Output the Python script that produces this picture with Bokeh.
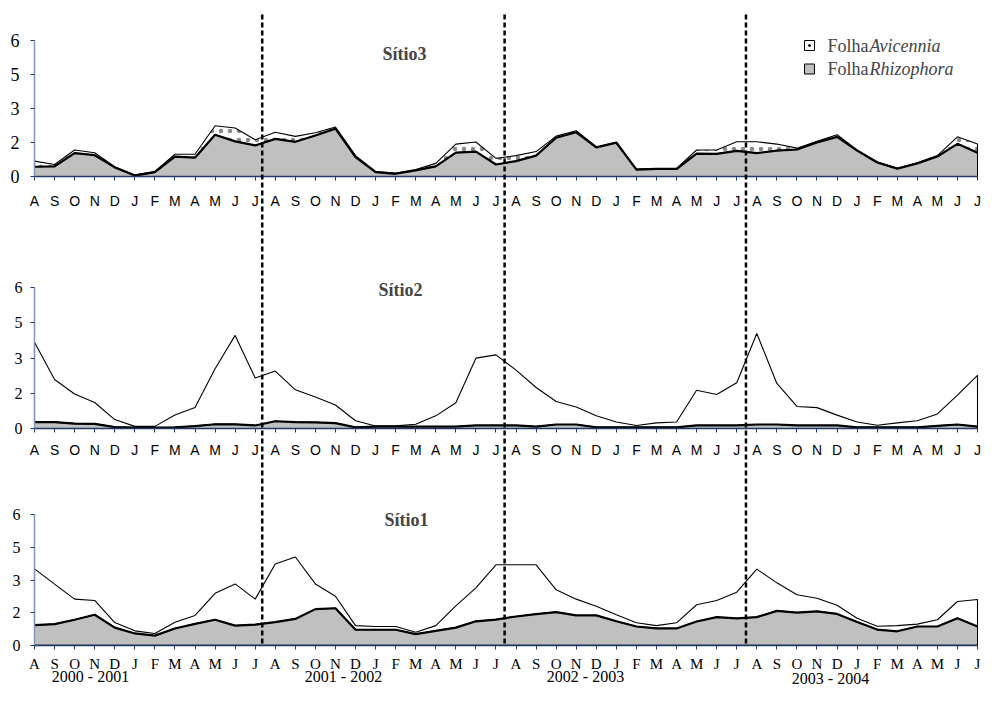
from bokeh.plotting import figure
from bokeh.models import Range1d, LinearAxis, FixedTicker, Label
from bokeh.core.properties import value
from bokeh.embed import file_html
from bokeh.resources import INLINE

# ---------------- data ----------------
months = ["A", "S", "O", "N", "D", "J", "F", "M", "A", "M", "J", "J"] * 4
idx = list(range(48))
year_labels = ["2000 - 2001", "2001 - 2002", "2002 - 2003", "2003 - 2004"]
year_breaks = [11.35, 23.43, 35.46]
y_tick_values = [0, 1.5, 3, 4.5, 6]
y_tick_labels = ["0", "2", "3", "5", "6"]

# Sítio3
rhiz3 = [0.43, 0.45, 1.03, 0.94, 0.40, 0.04, 0.19, 0.88, 0.83, 1.84, 1.55, 1.37,
         1.66, 1.53, 1.81, 2.11, 0.86, 0.19, 0.12, 0.27, 0.45, 1.05, 1.10, 0.53,
         0.68, 0.92, 1.71, 1.95, 1.28, 1.49, 0.30, 0.33, 0.33, 1.01, 1.00, 1.13,
         1.03, 1.14, 1.19, 1.50, 1.75, 1.14, 0.62, 0.34, 0.58, 0.88, 1.44, 1.05]
avic3 = [0.25, 0.08, 0.14, 0.11, 0.03, 0.03, 0.03, 0.10, 0.15, 0.40, 0.59, 0.25,
         0.29, 0.24, 0.12, 0.07, 0.06, 0.03, 0.03, 0.04, 0.13, 0.38, 0.42, 0.27,
         0.24, 0.18, 0.07, 0.07, 0.03, 0.03, 0.03, 0.03, 0.03, 0.16, 0.17, 0.40,
         0.50, 0.29, 0.06, 0.05, 0.09, 0.03, 0.03, 0.03, 0.03, 0.04, 0.31, 0.38]

# Sítio2
rhiz2 = [0.27, 0.27, 0.21, 0.20, 0.06, 0.04, 0.04, 0.05, 0.10, 0.18, 0.18, 0.13,
         0.31, 0.27, 0.26, 0.23, 0.05, 0.08, 0.08, 0.08, 0.08, 0.08, 0.13, 0.13,
         0.13, 0.08, 0.17, 0.17, 0.05, 0.05, 0.05, 0.05, 0.05, 0.13, 0.13, 0.13,
         0.17, 0.17, 0.13, 0.13, 0.13, 0.05, 0.05, 0.05, 0.05, 0.11, 0.17, 0.08]
avic2 = [3.41, 1.82, 1.26, 0.91, 0.32, 0.05, 0.05, 0.53, 0.80, 2.37, 3.79, 2.02,
         2.14, 1.38, 1.08, 0.77, 0.28, 0.03, 0.03, 0.10, 0.46, 1.02, 2.87, 3.01,
         2.36, 1.67, 0.98, 0.75, 0.49, 0.23, 0.08, 0.19, 0.23, 1.50, 1.32, 1.82,
         3.88, 1.75, 0.81, 0.76, 0.44, 0.23, 0.09, 0.19, 0.28, 0.51, 1.25, 2.19]

# Sítio1
rhiz1 = [0.92, 0.97, 1.17, 1.40, 0.81, 0.54, 0.44, 0.77, 0.98, 1.17, 0.90, 0.95,
         1.06, 1.21, 1.66, 1.70, 0.71, 0.71, 0.71, 0.51, 0.66, 0.81, 1.10, 1.18,
         1.32, 1.43, 1.52, 1.37, 1.37, 1.10, 0.86, 0.77, 0.77, 1.09, 1.29, 1.23,
         1.29, 1.58, 1.50, 1.56, 1.44, 1.07, 0.72, 0.64, 0.86, 0.86, 1.24, 0.86]
avic1 = [2.59, 1.84, 0.95, 0.66, 0.23, 0.12, 0.10, 0.29, 0.39, 1.22, 1.92, 1.17,
         2.68, 2.85, 1.16, 0.55, 0.19, 0.15, 0.15, 0.09, 0.24, 1.00, 1.54, 2.52,
         2.38, 2.27, 1.03, 0.75, 0.42, 0.30, 0.17, 0.13, 0.26, 0.77, 0.77, 1.21,
         2.21, 1.29, 0.82, 0.60, 0.40, 0.17, 0.15, 0.26, 0.11, 0.31, 0.77, 1.24]

# ---------------- layout helpers (picture pixels -> data) ----------------
W, H = 983, 686
FT, FB = 0, H
X0_PX, XN_PX = 34, 977
XS = (XN_PX - X0_PX) / 47.0

# name: (baseline px, px per unit, vertical shift so that all fits)
PANEL_GEOM = {"p3": (178.0, 22.67, -2),
              "p2": (433.0, 23.45, -5),
              "p1": (653.7, 21.73, -9)}


def dx(px):
    return (px - X0_PX) / XS


def sy(screen_px, name):
    """picture pixel (already placed) -> data value of panel"""
    y0, s, sh = PANEL_GEOM[name]
    return ((y0 + sh) - screen_px) / s


def dy(px, name):
    """reference pixel -> data value of panel (panel shift applied)"""
    return sy(px + PANEL_GEOM[name][2], name)


def yrange(name):
    return Range1d(sy(FB, name), sy(FT, name))


p = figure(width=W, height=H, x_range=Range1d(dx(0), dx(W)), y_range=yrange("p1"),
           output_backend="svg", toolbar_location=None,
           x_axis_location=None, y_axis_location=None, min_border=0,
           outline_line_color=None, background_fill_color="white",
           border_fill_color="white")
p.extra_y_ranges = {"p3": yrange("p3"), "p2": yrange("p2"), "p1": yrange("p1")}
p.title.visible = False
for g in p.grid:
    g.visible = False

GRAY = "#c0c0c0"
XAXIS_COL = "#1f3a66"
YAXIS_COL = "#7f95bb"

panels = [
    ("p3", rhiz3, avic3, "Sítio3", (404, 55), "Liberation Sans", "14px", "18px", 12, 11, True),
    ("p2", rhiz2, avic2, "Sítio2", (400, 294), "Liberation Sans", "14px", "16px", 9, 8, False),
    ("p1", rhiz1, avic1, "Sítio1", (406, 528), "Liberation Serif", "15px", "16px", 7, 10, False),
]

for name, rhiz, avic, title, tpos, mfont, msize, ysize, xstand, ystand, hatch in panels:
    total = [r + a for r, a in zip(rhiz, avic)]
    zeros = [0.0] * len(idx)
    # Avicennia band (stacked on top of Rhizophora)
    kw = dict(hatch_pattern="dot", hatch_scale=9, hatch_color="#8a8a8a",
              hatch_weight=0.4) if hatch else {}
    p.patch(idx + idx[::-1], total + rhiz[::-1], fill_color="white",
            line_color="black", line_width=1.1, y_range_name=name, **kw)
    # Rhizophora area
    p.patch(idx + idx[::-1], rhiz + zeros[::-1], fill_color=GRAY,
            line_color="black", line_width=1, y_range_name=name)
    p.line(idx, rhiz, line_color="black", line_width=2.2, y_range_name=name)

    xa = LinearAxis(y_range_name=name, fixed_location=0, bounds=(0, 47),
                    ticker=FixedTicker(ticks=idx),
                    major_label_overrides={i: m for i, m in zip(idx, months)})
    xa.axis_line_color = XAXIS_COL
    xa.axis_line_width = 1.5
    xa.major_tick_line_color = XAXIS_COL
    xa.major_tick_in = 0
    xa.major_tick_out = 4
    xa.minor_tick_line_color = None
    xa.major_label_standoff = xstand
    xa.major_label_text_font = mfont
    xa.major_label_text_font_size = msize
    xa.major_label_text_color = "black"
    p.add_layout(xa, "below")

    ya = LinearAxis(y_range_name=name, fixed_location=0, bounds=(0, 6),
                    ticker=FixedTicker(ticks=y_tick_values),
                    major_label_overrides={float(v): t for v, t in zip(y_tick_values, y_tick_labels)})
    ya.axis_line_color = YAXIS_COL
    ya.axis_line_width = 1.5
    ya.major_tick_line_color = XAXIS_COL
    ya.major_tick_in = 0
    ya.major_tick_out = 4
    ya.minor_tick_line_color = None
    ya.major_label_standoff = ystand
    ya.major_label_text_font = "Liberation Serif"
    ya.major_label_text_font_size = ysize
    ya.major_label_text_color = "black"
    p.add_layout(ya, "left")

    p.add_layout(Label(x=dx(tpos[0]), y=dy(tpos[1], name), y_range_name=name,
                       text=title, text_font="Liberation Serif", text_font_style="bold",
                       text_font_size="18px", text_align="center", text_baseline="middle"))

# year boundary dashed lines spanning all panels (from top panel to bottom baseline)
top_px = 14 + PANEL_GEOM["p3"][2]
bot_px = 652 + PANEL_GEOM["p1"][2]
r = p.segment(x0=year_breaks, y0=[sy(bot_px, "p1")] * 3, x1=year_breaks,
              y1=[sy(top_px, "p1")] * 3, line_color="black", line_width=2.5,
              line_dash="5 3")
r.level = "overlay"

# year labels under the bottom panel
year_x = [dx(90), dx(343), dx(585), dx(830)]
year_y = [sy(676, "p1"), sy(676, "p1"), sy(676, "p1"), sy(678, "p1")]
p.text(x=year_x, y=year_y, text=year_labels, text_font=value("Liberation Serif"),
       text_font_size="16px", text_align="center", text_baseline="middle",
       text_color="black")

# legend (top panel)
leg_y = [dy(47, "p3"), dy(70.5, "p3")]
p.scatter(x=[dx(809)] * 2, y=leg_y, marker="square", size=10,
          fill_color=["white", GRAY], line_color="black", line_width=1,
          y_range_name="p3")
p.scatter(x=[dx(809)], y=[leg_y[0]], marker="circle", size=2, color="black",
          y_range_name="p3")
for yy, sp in zip(leg_y, ["Avicennia", "Rhizophora"]):
    p.add_layout(Label(x=dx(827), y=yy, y_range_name="p3", text="Folha",
                       text_font="Liberation Serif", text_font_size="18px",
                       text_baseline="middle", text_align="left"))
    p.add_layout(Label(x=dx(869), y=yy, y_range_name="p3", text=sp,
                       text_font="Liberation Serif", text_font_style="italic",
                       text_font_size="18px", text_baseline="middle", text_align="left"))

open("out.html", "w").write(file_html(p, INLINE))
